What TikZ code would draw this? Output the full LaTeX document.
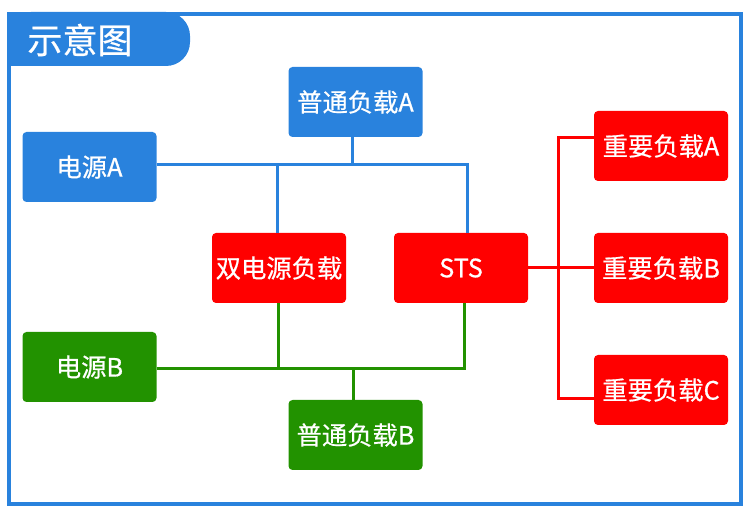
\documentclass[tikz,border=0pt]{standalone}
\usepackage{fontspec}
\setmainfont{Noto Sans CJK SC}
\newfontfamily\boxfont[FakeBold=0.6]{Noto Sans CJK SC}
\definecolor{cblue}{RGB}{41,130,221}
\definecolor{cred}{RGB}{255,0,0}
\definecolor{cgreen}{RGB}{34,146,0}
\tikzset{
  box/.style={rounded corners=4pt, minimum width=134pt, minimum height=70pt, inner sep=0pt,
    text=white, font=\boxfont\fontsize{25.3}{30}\selectfont},
  bluebox/.style={box, fill=cblue},
  redbox/.style={box, fill=cred},
  greenbox/.style={box, fill=cgreen},
  wire/.style={line width=3pt},
}
\begin{document}
\begin{tikzpicture}[x=1pt,y=-1pt]
\useasboundingbox (0,0) rectangle (750,518);
% frame
\draw[cblue, line width=4pt] (9,14) rectangle (741,504);
% title tab
\fill[cblue, rounded corners=24pt] (7,66) -- (7,12) -- (190,12) -- (190,66) -- cycle;
\fill[cblue] (7,12) rectangle (60,66);
\node[text=white, font=\boxfont\fontsize{35}{40}\selectfont, inner sep=0pt] (title) at (80,40) {示意图};
% nodes
\node[bluebox] (pA) at (355.5,102) {普通负载A};
\node[bluebox] (srcA) at (89.5,167) {电源A};
\node[redbox] (dual) at (279,268) {双电源负载};
\node[redbox] (sts) at (461,268) {STS};
\node[greenbox] (srcB) at (89.5,367) {电源B};
\node[greenbox] (pB) at (355.5,435) {普通负载B};
\node[redbox] (iA) at (661,146) {重要负载A};
\node[redbox] (iB) at (661,268) {重要负载B};
\node[redbox] (iC) at (661,390) {重要负载C};
% blue wiring
\coordinate (jb1) at (277,165);
\coordinate (jb2) at (352,165);
\coordinate (jb3) at (467,165);
\draw[wire, cblue] (srcA.east |- jb1) -- (jb3) -- (jb3 |- sts.north);
\draw[wire, cblue] (jb1) -- (jb1 |- dual.north);
\draw[wire, cblue] (jb2 |- pA.south) -- (jb2);
% green wiring
\coordinate (jg1) at (278,369);
\coordinate (jg2) at (353,369);
\coordinate (jg3) at (464,369);
\draw[wire, cgreen] (srcB.east |- jg1) -- (jg3) -- (jg3 |- sts.south);
\draw[wire, cgreen] (jg1) -- (jg1 |- dual.south);
\draw[wire, cgreen] (jg2) -- (jg2 |- pB.north);
% red wiring
\coordinate (ra) at (558,138);
\coordinate (rc) at (558,399);
\draw[wire, cred] (sts.east) -- (iB.west);
\draw[wire, cred] (iA.west |- ra) -- (ra) -- (rc) -- (iC.west |- rc);
\end{tikzpicture}
\end{document}
